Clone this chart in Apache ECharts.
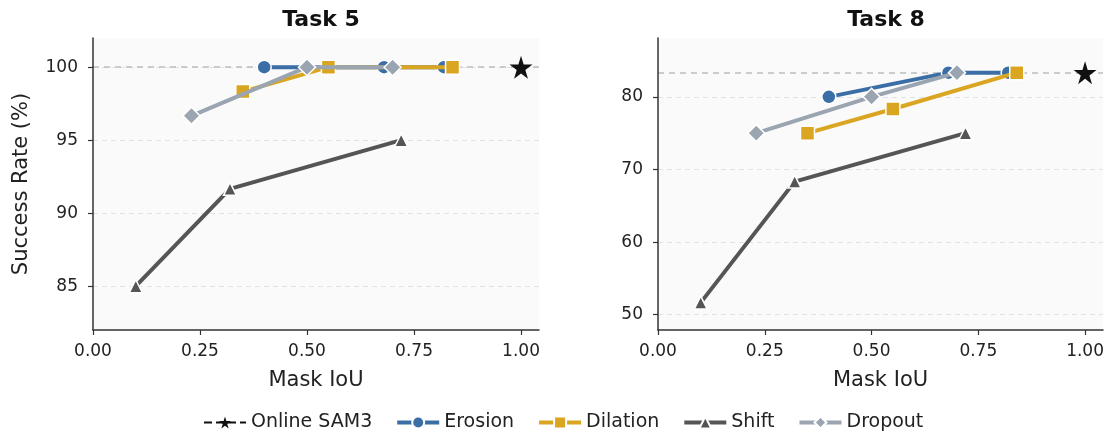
<!DOCTYPE html>
<html>
<head>
<meta charset="utf-8">
<script src="https://cdn.jsdelivr.net/npm/echarts@6/dist/echarts.min.js"></script>
<style>
  html, body { margin: 0; padding: 0; background: #fff; }
  #chart { width: 1107px; height: 438px; }
</style>
</head>
<body>
<div id="chart"></div>
<script>
// values
var taskNames = ['Task 5', 'Task 8'];
var xTicks = [0, 0.25, 0.5, 0.75, 1.0];
var yTicks = [[85, 90, 95, 100], [50, 60, 70, 80]];
var yRange = [[82, 102], [47.9, 88.1]];

var sam3X = 1.0;
var sam3Y = [100, 83.33];

var erosionX = [0.40, 0.68, 0.82];
var erosionY = [[100, 100, 100], [80, 83.33, 83.33]];

var dilationX = [0.35, 0.55, 0.84];
var dilationY = [[98.33, 100, 100], [75, 78.33, 83.33]];

var shiftX = [0.10, 0.32, 0.72];
var shiftY = [[85, 91.67, 95], [51.67, 68.33, 75]];

var dropoutX = [0.23, 0.50, 0.70];
var dropoutY = [[96.67, 100, 100], [75, 80, 83.33]];

var FONT = 'DejaVu Sans';
var starPath = 'path://M50,0 L61,35 L98,35 L68,57 L79,91 L50,70 L21,91 L32,57 L2,35 L39,35 Z';

function pairs(xs, ys) {
    return xs.map(function (x, i) { return [x, ys[i]]; });
}

var styles = [
    { name: 'Erosion', color: '#3a6ea5', symbol: 'circle', size: 14, xs: erosionX, ys: erosionY },
    { name: 'Dilation', color: '#daa520', symbol: 'rect', size: 14, xs: dilationX, ys: dilationY },
    { name: 'Shift', color: '#555555', symbol: 'triangle', size: 13, xs: shiftX, ys: shiftY },
    { name: 'Dropout', color: '#9aa5b1', symbol: 'diamond', size: 17, xs: dropoutX, ys: dropoutY }
];

var grids = [], xAxes = [], yAxes = [], titles = [], series = [];
var lefts = [93, 658];

for (var g = 0; g < 2; g++) {
    grids.push({
        left: lefts[g], top: 38, width: 446, height: 292,
        show: true, backgroundColor: '#fafafa', borderWidth: 0
    });
    titles.push({
        text: taskNames[g],
        left: lefts[g] + 223, top: 4, textAlign: 'center',
        textStyle: { fontFamily: FONT, fontSize: 22, fontWeight: 'bold', color: '#111' }
    });
    xAxes.push({
        type: 'value', gridIndex: g, min: 0, max: 1.042,
        name: 'Mask IoU', nameLocation: 'middle', nameGap: 40,
        nameTextStyle: { fontFamily: FONT, fontSize: 21, color: '#222' },
        axisLine: { show: true, lineStyle: { color: '#333', width: 1.5 } },
        axisTick: { show: true, length: 5, lineStyle: { color: '#333', width: 1.2 }, customValues: xTicks },
        axisLabel: { fontFamily: FONT, fontSize: 17, color: '#222', margin: 13, customValues: xTicks,
            formatter: function (v) { return v.toFixed(2); } },
        splitLine: { show: false }
    });
    yAxes.push({
        type: 'value', gridIndex: g, min: yRange[g][0], max: yRange[g][1],
        name: g === 0 ? 'Success Rate (%)' : '', nameLocation: 'middle', nameGap: 61,
        nameTextStyle: { fontFamily: FONT, fontSize: 21, color: '#222' },
        axisLine: { show: true, lineStyle: { color: '#333', width: 1.5 } },
        axisTick: { show: true, length: 5, lineStyle: { color: '#333', width: 1.2 }, customValues: yTicks[g] },
        axisLabel: { fontFamily: FONT, fontSize: 17, color: '#222', margin: 15, customValues: yTicks[g] },
        splitLine: { show: false }
    });

    var gridLines = yTicks[g].map(function (v) {
        return { yAxis: v, lineStyle: { color: '#e2e2e2', type: [5, 4], width: 1 } };
    });
    gridLines.push({ yAxis: sam3Y[g], lineStyle: { color: '#bdbdbd', type: [6, 5], width: 1.6 } });

    series.push({
        name: 'Online SAM3', type: 'line', xAxisIndex: g, yAxisIndex: g, z: 1,
        data: [[sam3X, sam3Y[g]]],
        symbol: starPath, symbolSize: 23,
        itemStyle: { color: '#111', borderWidth: 0 },
        lineStyle: { color: '#111', type: 'dashed', width: 1.5 },
        markLine: { silent: true, z: 0, symbol: 'none', label: { show: false }, animation: false, data: gridLines }
    });

    styles.forEach(function (s, k) {
        series.push({
            name: s.name, type: 'line', xAxisIndex: g, yAxisIndex: g, z: 2 + k,
            data: pairs(s.xs, s.ys[g]),
            symbol: s.symbol, symbolSize: s.size, showAllSymbol: true,
            lineStyle: { color: s.color, width: 4 },
            itemStyle: { color: s.color, borderColor: '#fff', borderWidth: 1.5 }
        });
    });
}

var myChart = echarts.init(document.getElementById('chart'));
myChart.setOption({
    animation: false,
    backgroundColor: '#fff',
    title: titles,
    grid: grids,
    xAxis: xAxes,
    yAxis: yAxes,
    legend: {
        bottom: 1, left: 198,
        itemWidth: 42, itemHeight: 15, itemGap: 23,
        lineStyle: { width: 4 },
        textStyle: { fontFamily: FONT, fontSize: 19, color: '#222' },
        data: [
            { name: 'Online SAM3', lineStyle: { width: 2 }, itemStyle: { borderWidth: 0 } },
            'Erosion', 'Dilation', 'Shift', 'Dropout'
        ]
    },
    series: series
});
</script>
</body>
</html>
